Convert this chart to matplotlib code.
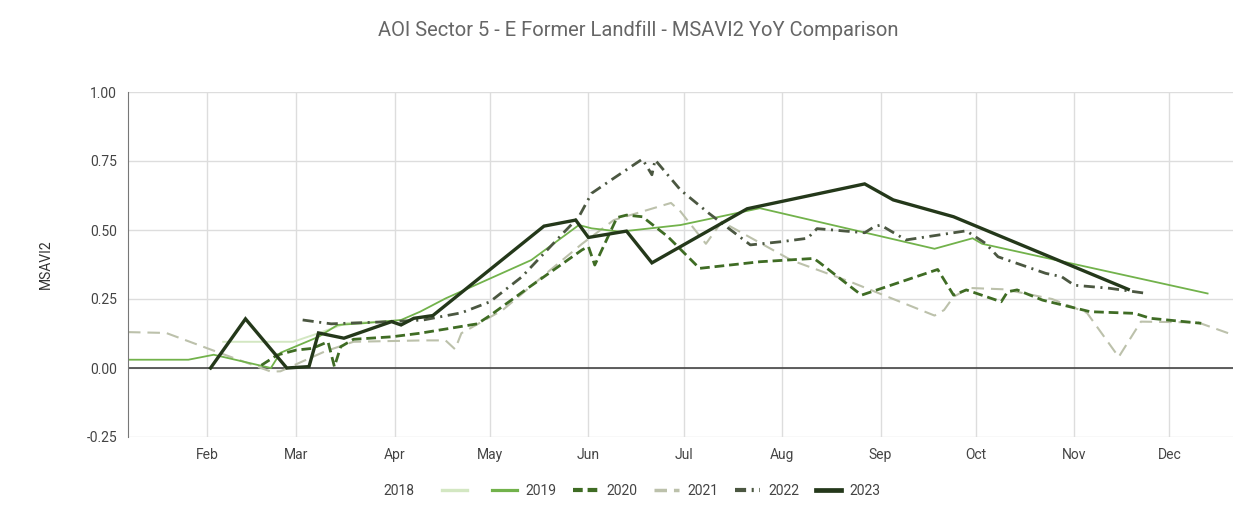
import matplotlib
matplotlib.use("Agg")
import matplotlib.pyplot as plt
from matplotlib.lines import Line2D
import pandas as pd

plt.rcParams['font.family'] = ['Roboto', 'DejaVu Sans']
plt.rcParams['lines.scale_dashes'] = False

YEAR = "2023"  # dummy year so all seasons share one axis

# --- data (MM-DD, MSAVI2) ---
d2018 = ["02-06", "02-28", "03-08", "03-17", "04-01"]
v2018 = [0.095, 0.095, 0.126, 0.163, 0.17]

d2019 = ["01-07", "01-26", "02-03", "02-21", "02-24", "03-08", "03-14", "03-22",
         "04-03", "04-09", "04-17", "05-14", "05-29", "06-02", "06-11", "06-30",
         "07-25", "09-18", "09-30", "10-03", "12-13"]
v2019 = [0.03, 0.03, 0.048, 0.0, 0.055, 0.113, 0.156, 0.162,
         0.174, 0.204, 0.252, 0.391, 0.518, 0.506, 0.494, 0.518,
         0.579, 0.432, 0.47, 0.45, 0.27]

d2020 = ["02-18", "02-23", "03-01", "03-06", "03-11", "03-13", "03-15", "03-19",
         "03-31", "04-09", "04-27", "05-01", "05-13", "05-30", "06-01", "06-03",
         "06-10", "06-13", "06-18", "06-26", "07-06", "07-25", "08-11", "08-13",
         "08-26", "09-19", "09-24", "09-28", "10-09", "10-11", "10-14", "10-22",
         "11-06", "11-20", "11-25", "12-11"]
v2020 = [0.01, 0.047, 0.065, 0.071, 0.095, 0.005, 0.077, 0.104,
         0.113, 0.126, 0.16, 0.19, 0.29, 0.428, 0.44, 0.373,
         0.545, 0.554, 0.548, 0.476, 0.361, 0.385, 0.397, 0.38,
         0.264, 0.357, 0.264, 0.283, 0.24, 0.276, 0.283, 0.246,
         0.204, 0.198, 0.18, 0.162]

d2021 = ["01-07", "01-19", "02-06", "02-21", "02-24", "03-10", "03-19", "04-10",
         "04-17", "04-20", "04-22", "05-05", "05-20", "05-30", "06-09", "06-27",
         "06-30", "07-08", "07-13", "08-04", "08-23", "09-18", "09-21", "09-24",
         "09-29", "10-10", "10-25", "11-05", "11-15", "11-22", "12-10", "12-21"]
v2021 = [0.13, 0.127, 0.05, -0.013, -0.012, 0.06, 0.095, 0.10,
         0.10, 0.068, 0.126, 0.21, 0.355, 0.45, 0.536, 0.598,
         0.567, 0.45, 0.53, 0.39, 0.31, 0.19, 0.21, 0.258,
         0.29, 0.285, 0.25, 0.2, 0.04, 0.168, 0.165, 0.12]

d2022 = ["03-03", "03-12", "03-19", "03-31", "04-10", "04-22", "05-01", "05-11",
         "05-23", "05-29", "06-02", "06-08", "06-18", "06-21", "06-22", "06-30",
         "07-09", "07-22", "08-01", "08-09", "08-12", "08-27", "08-30", "09-01",
         "09-09", "09-28", "10-04", "10-08", "10-23", "10-28", "11-01", "11-12",
         "11-24"]
v2022 = [0.174, 0.16, 0.163, 0.168, 0.174, 0.2, 0.24, 0.33,
         0.476, 0.548, 0.633, 0.68, 0.757, 0.70, 0.754, 0.645,
         0.56, 0.446, 0.458, 0.47, 0.505, 0.49, 0.512, 0.518,
         0.464, 0.497, 0.452, 0.403, 0.343, 0.331, 0.30, 0.289,
         0.27]

d2023 = ["02-02", "02-13", "02-26", "03-05", "03-08", "03-16", "03-31", "04-03",
         "04-07", "04-13", "05-18", "05-28", "06-01", "06-13", "06-21", "07-21",
         "08-27", "09-05", "09-24", "11-18"]
v2023 = [0.0, 0.178, 0.0, 0.005, 0.127, 0.108, 0.168, 0.156,
         0.18, 0.19, 0.514, 0.536, 0.473, 0.496, 0.381, 0.577,
         0.667, 0.609, 0.548, 0.285]

months = ["Feb", "Mar", "Apr", "May", "Jun", "Jul", "Aug", "Sep", "Oct", "Nov", "Dec"]
yticks = [-0.25, 0.0, 0.25, 0.5, 0.75, 1.0]


def dates(lst):
    return pd.to_datetime([YEAR + "-" + s for s in lst])


# year -> (dates, values, color, linewidth, dashes)
styles = [
    ("2018", d2018, v2018, "#d3e7c2", 1.4, None),
    ("2021", d2021, v2021, "#bcc1ab", 1.5, (9, 5)),
    ("2019", d2019, v2019, "#72b24b", 1.3, None),
    ("2020", d2020, v2020, "#3f6c24", 2.0, (7, 3.5)),
    ("2022", d2022, v2022, "#4b5741", 2.0, (8, 4, 1.5, 4)),
    ("2023", d2023, v2023, "#24381a", 2.4, None),
]

fig = plt.figure(figsize=(12.53, 5.17), dpi=100)
ax = fig.add_axes([128 / 1253, 1 - 437 / 517, (1233 - 128) / 1253, (437 - 92) / 517])

handles = {}
for name, d, v, col, lw, dash in styles:
    line, = ax.plot(dates(d), v, color=col, lw=lw, solid_joinstyle="miter")
    if dash:
        line.set_dashes(dash)
    handles[name] = line

ax.set_xlim(pd.Timestamp(YEAR + "-01-07"), pd.Timestamp(YEAR + "-12-21"))
ax.set_ylim(-0.25, 1.0)

month_starts = pd.date_range(YEAR + "-02-01", periods=11, freq="MS")
ax.set_xticks(month_starts)
ax.set_xticklabels(months)
ax.set_yticks(yticks)
ax.set_yticklabels([f"{t:.2f}" for t in yticks])
ax.tick_params(length=0, labelsize=10, colors="#444444", pad=8)

ax.grid(True, color="#dddddd", lw=1)
ax.set_axisbelow(True)
ax.axhline(0, color="#444444", lw=1.2, zorder=1)
for s in ["top", "right", "bottom"]:
    ax.spines[s].set_visible(False)
ax.spines["left"].set_color("#777777")

ax.set_ylabel("MSAVI2", fontsize=10, color="#333333", labelpad=24)

fig.text(0.509, 0.942, "AOI Sector 5 - E Former Landfill - MSAVI2 YoY Comparison",
         ha="center", va="center", fontsize=14.5, color="#666666")

# legend: reference shows "2018" ahead of the two pale swatches
order = ["2018", "2019", "2020", "2021", "2022", "2023"]
leg_handles = []
for name in order:
    h = handles[name]
    lh = Line2D([], [], color=h.get_color(), lw=h.get_linewidth() + 1)
    dash = [s for s in styles if s[0] == name][0][5]
    if dash:
        lh.set_dashes(dash)
    leg_handles.append(lh)
fig.legend(leg_handles, [""] + order[1:], loc="center", bbox_to_anchor=(0.528, 0.05),
           ncol=6, frameon=False, fontsize=10, handlelength=1.8, handletextpad=0.6,
           columnspacing=1.2, labelcolor="#444444")
fig.text(0.318, 0.05, "2018", ha="center", va="center", fontsize=10, color="#444444")

fig.savefig("out.png", dpi=100, facecolor="white")
